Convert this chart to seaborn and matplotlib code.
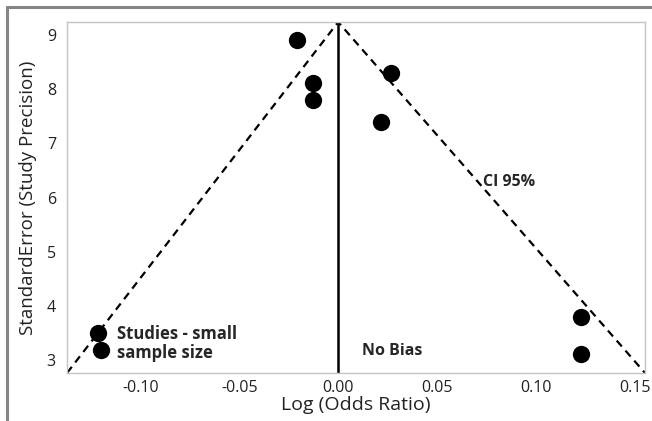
import numpy as np
import pandas as pd
import seaborn as sns
import matplotlib.pyplot as plt
from matplotlib.lines import Line2D

# study points
log_or = [-0.0209, -0.0128, -0.0128, 0.0269, 0.0216, -0.1216, -0.1200, 0.1226, 0.1226]
precision = [8.90, 8.12, 7.80, 8.29, 7.40, 3.50, 3.18, 3.79, 3.11]

# 95% CI funnel (apex at no-bias line)
funnel_x = [-0.137, 0.0, 0.155]
funnel_y = [2.76, 9.24, 2.76]

xlim = (-0.137, 0.155)
ylim = (2.76, 9.24)
xticks = [-0.10, -0.05, 0.00, 0.05, 0.10, 0.15]
yticks = [3, 4, 5, 6, 7, 8, 9]

sns.set_style('white')
plt.rcParams['font.family'] = ['Open Sans', 'DejaVu Sans']

fig = plt.figure(figsize=(6.52, 4.21), dpi=100)
ax = fig.add_axes([0.1028, 0.114, 0.8865, 0.8337])

data = pd.DataFrame({'x': log_or, 'y': precision})
funnel = pd.DataFrame({'x': funnel_x, 'y': funnel_y})

sns.lineplot(x='x', y='y', data=funnel, ax=ax, color='black', linewidth=1.6,
             estimator=None, sort=False, dashes=False, linestyle=(0, (3.5, 2.5)))
ax.axvline(0, color='black', linewidth=1.8)
sns.scatterplot(x='x', y='y', data=data, ax=ax, color='black', s=155,
                edgecolor='black', linewidth=0, zorder=3)

ax.set_xlim(*xlim)
ax.set_ylim(*ylim)
ax.set_xticks(xticks)
ax.set_xticklabels(['%.2f' % t for t in xticks])
ax.set_yticks(yticks)
ax.tick_params(axis='both', labelsize=11.5, width=0.8, color='#bbbbbb',
               labelcolor='#222222')
ax.tick_params(axis='x', length=3, pad=2)
ax.tick_params(axis='y', length=5, pad=3)
for s in ax.spines.values():
    s.set_color('#c4c4c4')
    s.set_linewidth(1.0)

ax.set_xlabel('Log (Odds Ratio)', fontsize=14, color='#222222', labelpad=0)
ax.set_ylabel('StandardError (Study Precision)', fontsize=13.5, color='#222222', labelpad=7)

ax.text(-0.1116, 3.30, 'Studies - small\nsample size', fontsize=12, fontweight='bold',
        va='center', ha='left', linespacing=1.1)
ax.text(0.0121, 3.17, 'No Bias', fontsize=11.5, fontweight='bold', va='center', ha='left')
ax.text(0.0732, 6.29, 'CI 95%', fontsize=11.5, fontweight='bold', va='center', ha='left')

# outer frame of the original screenshot
fig.add_artist(Line2D([7 / 652, 1], [1 - 7 / 421, 1 - 7 / 421], color='#858585', linewidth=2.2))
fig.add_artist(Line2D([7 / 652, 7 / 652], [0, 1 - 7 / 421], color='#858585', linewidth=2.2))

fig.savefig('out.png', dpi=100)
